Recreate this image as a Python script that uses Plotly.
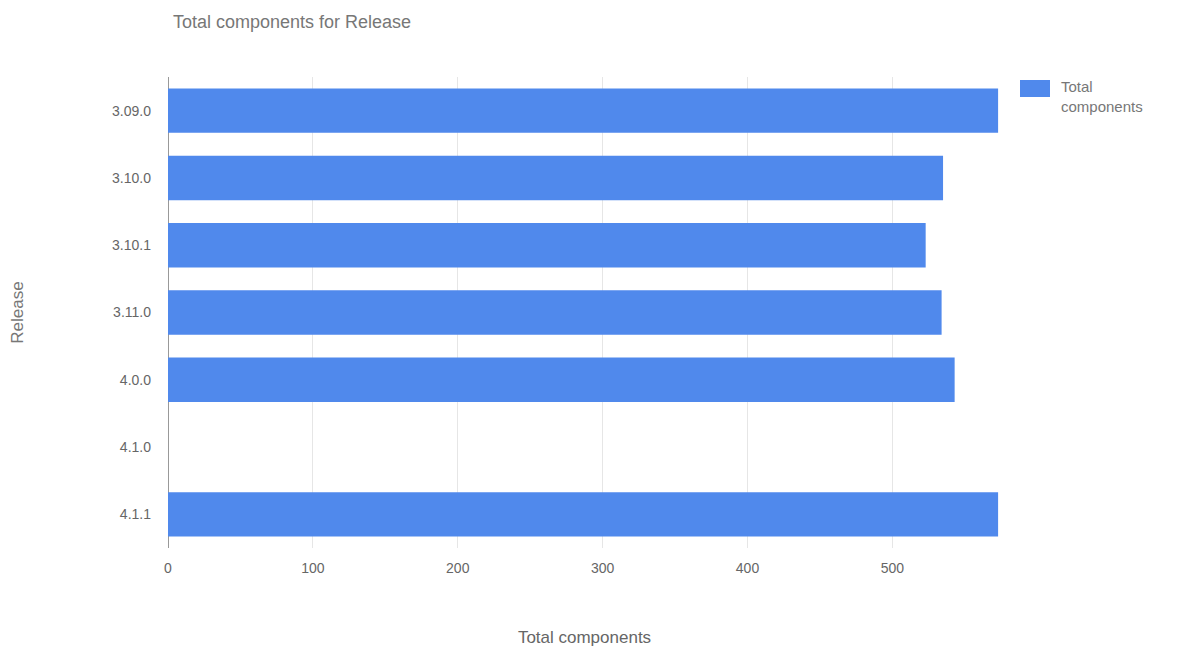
import plotly.graph_objects as go

releases = ["3.09.0", "3.10.0", "3.10.1", "3.11.0", "4.0.0", "4.1.0", "4.1.1"]
total_components = [573, 535, 523, 534, 543, None, 573]
x_ticks = [0, 100, 200, 300, 400, 500]

bar_color = "#5089ec"
font_family = "Liberation Sans, Arial, sans-serif"

fig = go.Figure()
fig.add_trace(go.Bar(
    y=releases, x=total_components, orientation="h",
    marker=dict(color=bar_color, line=dict(width=0)),
    name="Total components", showlegend=False,
))

fig.update_layout(
    width=1178, height=655,
    margin=dict(l=168, r=177, t=77, b=107),
    paper_bgcolor="white", plot_bgcolor="white",
    font=dict(family=font_family, color="#555"),
    bargap=0.34,
    title=dict(text="Total components for Release", x=173/1178, xanchor="left",
               y=1-22/655, yanchor="middle",
               font=dict(size=18, color="#777", family=font_family)),
    xaxis=dict(range=[0, 575], tickvals=x_ticks, showgrid=True, gridcolor="#e6e6e6",
               gridwidth=1, zeroline=True, zerolinecolor="#999", zerolinewidth=1,
               tickfont=dict(size=14, color="#666"), ticks="", showline=False,
               ticklabelstandoff=10,
               title=dict(text="Total components", font=dict(size=17, color="#666"),
                          standoff=56)),
    yaxis=dict(categoryorder="array", categoryarray=releases, autorange="reversed",
               tickfont=dict(size=14, color="#666"), ticks="", ticklabelstandoff=16,
               showgrid=False,
               title=dict(text="Release", font=dict(size=17, color="#777"), standoff=84)),
)

# legend drawn manually
fig.add_shape(type="rect", xref="paper", yref="paper",
              x0=(1020-168)/833, x1=(1050-168)/833,
              y0=(548-97)/471, y1=(548-80)/471,
              fillcolor=bar_color, line=dict(width=0))
fig.add_annotation(xref="paper", yref="paper", x=(1059-168)/833, y=(548-76)/471,
                   xanchor="left", yanchor="top", align="left", showarrow=False,
                   text="Total<br>components", font=dict(size=15, color="#777"))

fig.write_html("out.html")
